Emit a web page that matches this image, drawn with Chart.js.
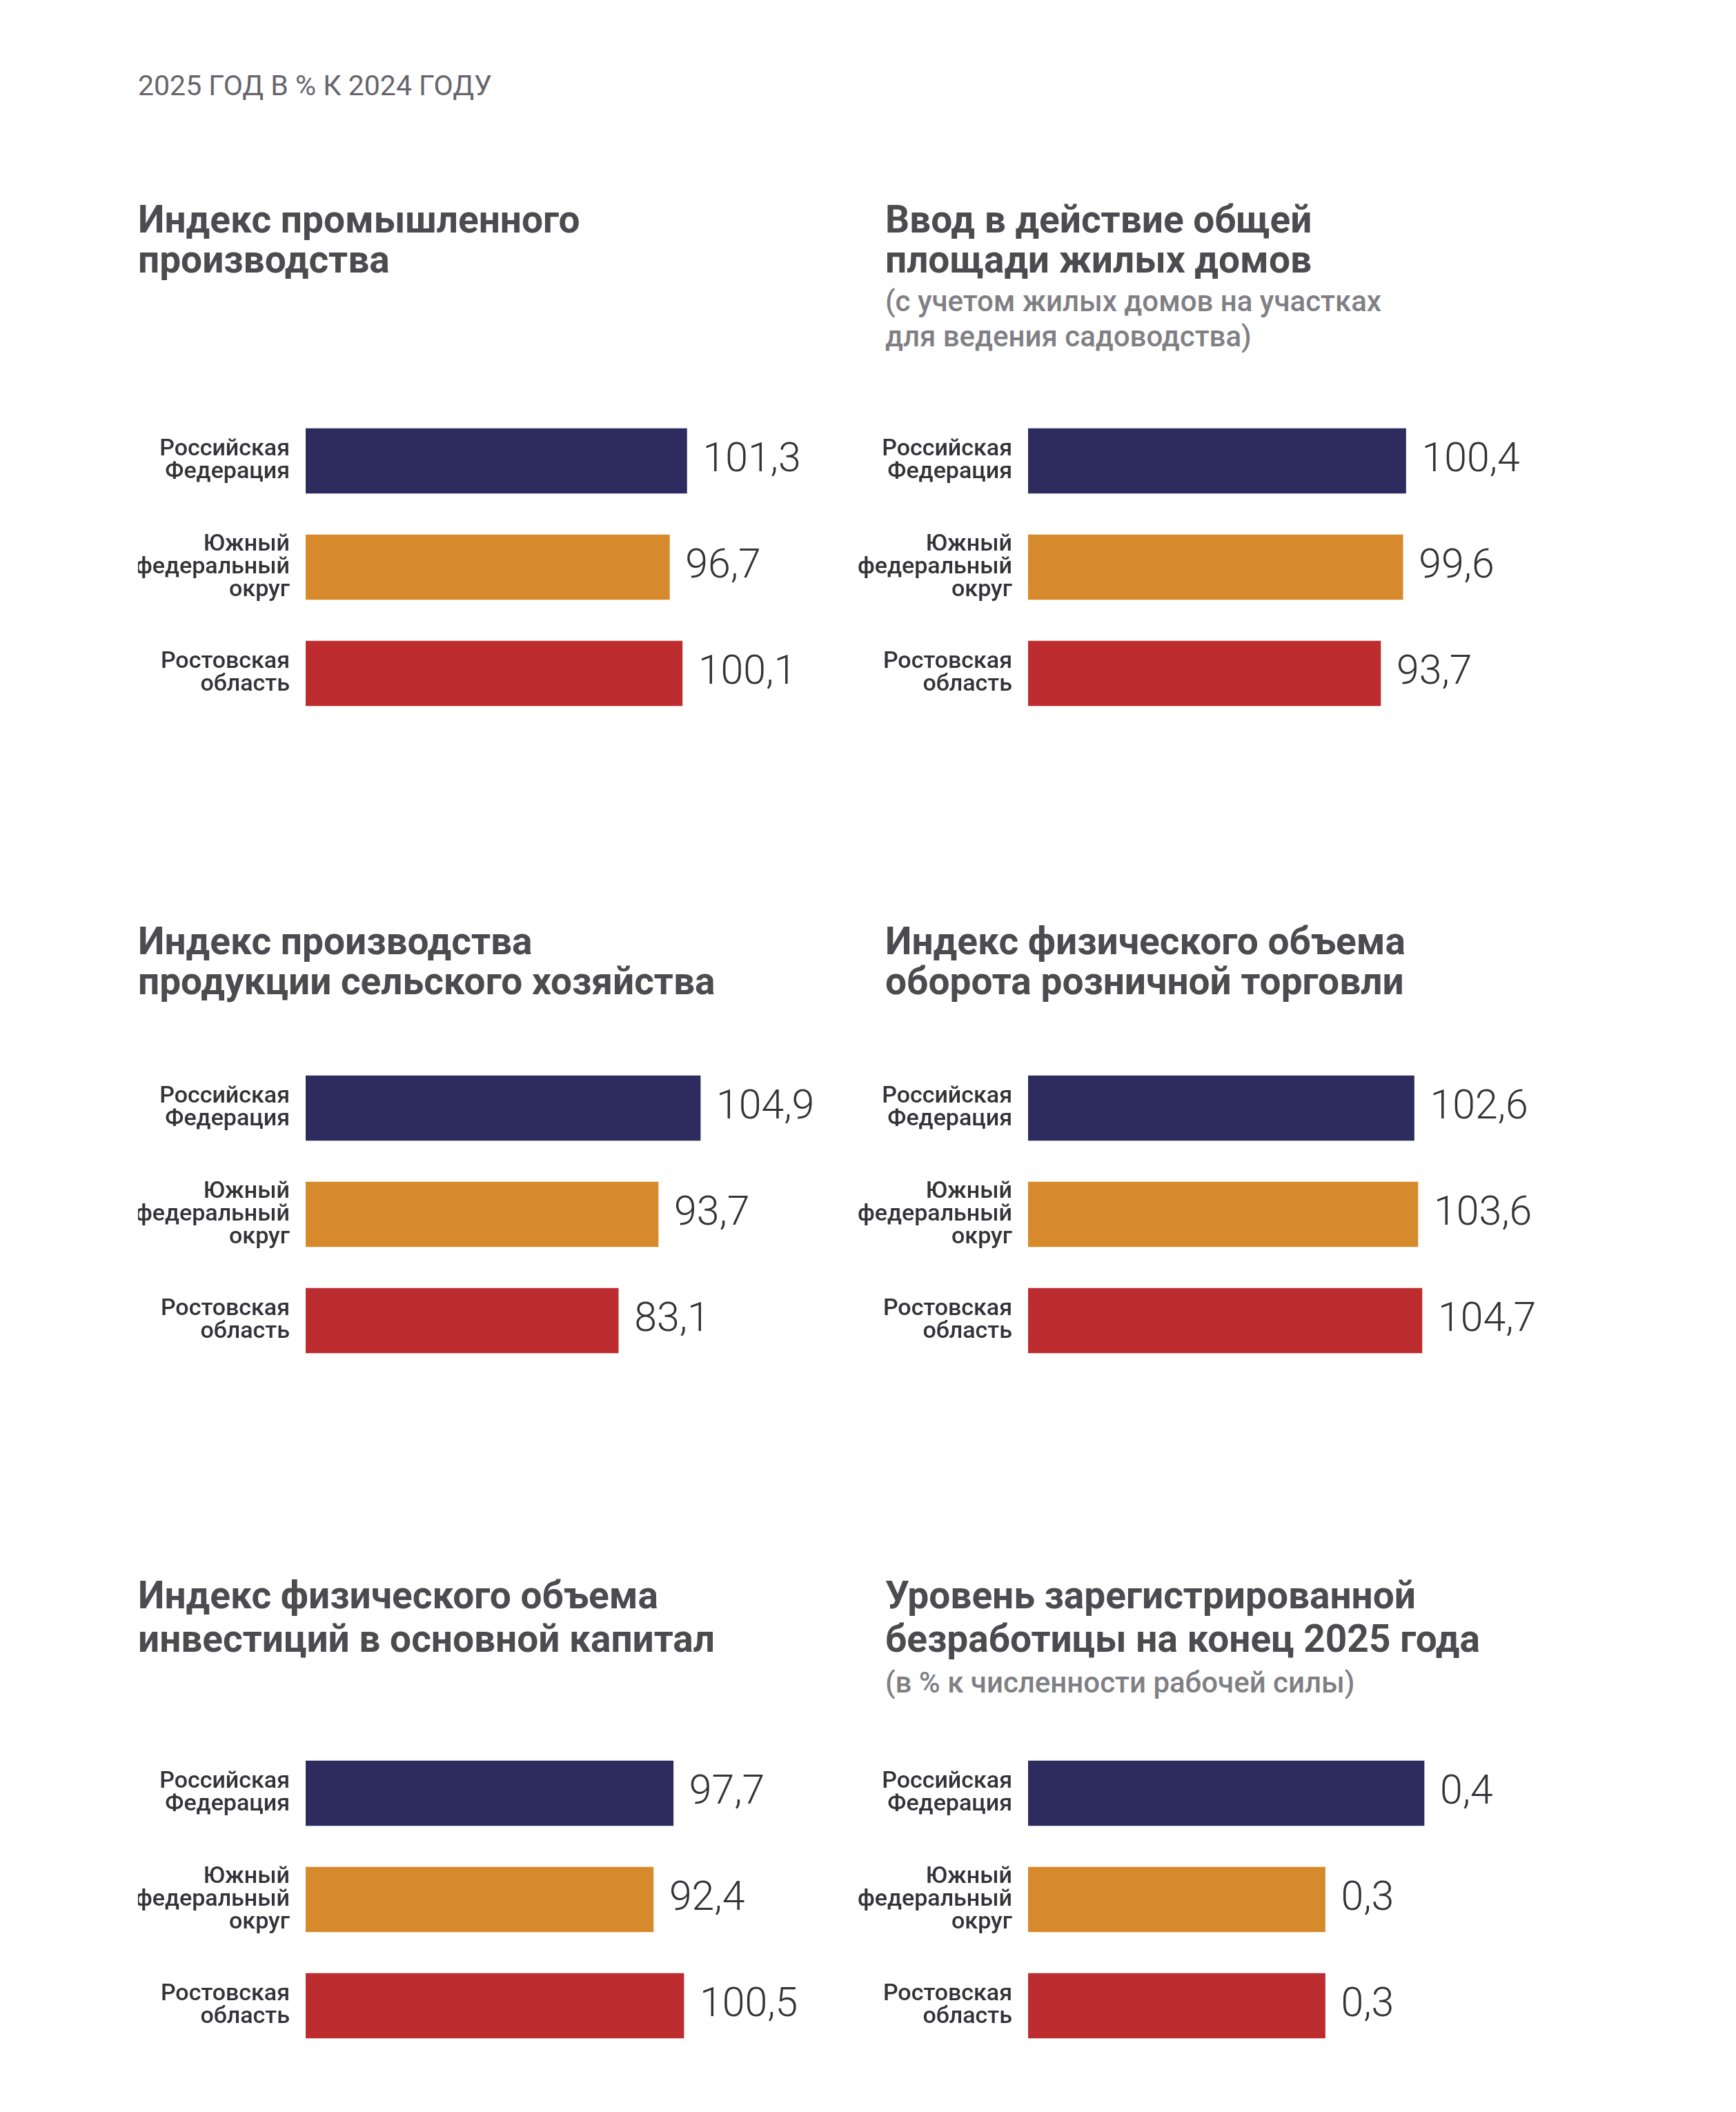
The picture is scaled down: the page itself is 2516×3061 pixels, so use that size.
<!DOCTYPE html>
<html lang="ru">
<head>
<meta charset="utf-8">
<title>2025 год в % к 2024 году</title>
<script src="https://cdn.jsdelivr.net/npm/chart.js@4.4.1/dist/chart.umd.min.js"></script>
<style>
    html, body { margin: 0; padding: 0; background: #fff; }
    body { position: relative; width: 2516px; height: 3061px; overflow: hidden; font-family: Roboto, "Noto Sans", sans-serif; }
    .head { position: absolute; left: 200px; top: 94px; font-size: 41px; line-height: 60px; color: #66666c; white-space: nowrap; }
    .ttl { position: absolute; font-size: 55px; line-height: 58px; font-weight: 700; color: #4b4b50; white-space: nowrap; }
    .sub { display: block; margin-top: 6px; font-size: 42px; line-height: 51px; font-weight: 500; color: #808084; }
    canvas { position: absolute; }
</style>
</head>
<body>
<div class="head">2025 ГОД В % К 2024 ГОДУ</div>

<div class="ttl" style="left:200px;top:289px">Индекс промышленного<br>производства</div>
<div class="ttl" style="left:1283px;top:289px">Ввод в действие общей<br>площади жилых домов
    <span class="sub">(с учетом жилых домов на участках<br>для ведения садоводства)</span></div>

<div class="ttl" style="left:200px;top:1335px">Индекс производства<br>продукции сельского хозяйства</div>
<div class="ttl" style="left:1283px;top:1335px">Индекс физического объема<br>оборота розничной торговли</div>

<div class="ttl" style="left:200px;top:2281px;line-height:63px">Индекс физического объема<br>инвестиций в основной капитал</div>
<div class="ttl" style="left:1283px;top:2281px;line-height:63px">Уровень зарегистрированной<br>безработицы на конец 2025 года
    <span class="sub">(в % к численности рабочей силы)</span></div>

<canvas id="industryChart"></canvas>
<canvas id="housingChart"></canvas>
<canvas id="agroChart"></canvas>
<canvas id="retailChart"></canvas>
<canvas id="investChart"></canvas>
<canvas id="joblessChart"></canvas>

<script>
// regions (y axis labels)
const regions = [
    ['Российская', 'Федерация'],
    ['Южный', 'федеральный', 'округ'],
    ['Ростовская', 'область']
];
const barColors = ['#2e2c5e', '#d68a2b', '#bd2c2e'];

// 2025 in % to 2024
const industrial = [101.3, 96.7, 100.1];
const housing = [100.4, 99.6, 93.7];
const agriculture = [104.9, 93.7, 83.1];
const retail = [102.6, 103.6, 104.7];
const investment = [97.7, 92.4, 100.5];
// % of labour force
const unemployment = [0.4, 0.3, 0.3];

const fmt = v => v.toFixed(1).replace('.', ',');

// value text right of each bar
const valueLabels = {
    id: 'valueLabels',
    afterDatasetsDraw(chart) {
        const ctx = chart.ctx;
        const ds = chart.data.datasets[0];
        ctx.save();
        ctx.font = '300 59px Roboto';
        ctx.fillStyle = '#333338';
        ctx.textAlign = 'left';
        ctx.textBaseline = 'middle';
        chart.getDatasetMeta(0).data.forEach((bar, i) => {
            ctx.fillText(fmt(ds.data[i]), bar.x + 23, bar.y);
        });
        ctx.restore();
    }
};

function makeChart(id, values, xMax, left, top, axisWidth) {
    const canvas = document.getElementById(id);
    const w = axisWidth + 818, h = 462;
    canvas.width = w;
    canvas.height = h;
    canvas.style.left = left + 'px';
    canvas.style.top = top + 'px';
    canvas.style.width = w + 'px';
    canvas.style.height = h + 'px';

    return new Chart(canvas, {
        type: 'bar',
        data: {
            labels: regions,
            datasets: [{
                data: values,
                backgroundColor: barColors,
                borderWidth: 0,
                barThickness: 94
            }]
        },
        options: {
            indexAxis: 'y',
            responsive: false,
            maintainAspectRatio: false,
            animation: false,
            devicePixelRatio: 1,
            layout: { padding: 0, autoPadding: false },
            plugins: { legend: { display: false }, tooltip: { enabled: false } },
            scales: {
                x: { display: false, min: 0, max: xMax },
                y: {
                    afterFit(scale) {
                        scale.width = axisWidth;
                        scale.paddingTop = 0;
                        scale.paddingBottom = 0;
                    },
                    grid: { display: false, drawTicks: false },
                    border: { display: false },
                    ticks: {
                        padding: 23,
                        color: '#333338',
                        font: { family: 'Roboto', size: 34, weight: '500', lineHeight: '33px' }
                    }
                }
            }
        },
        plugins: [valueLabels]
    });
}

makeChart('industryChart', industrial, 150, 200, 591, 243);
makeChart('housingChart', housing, 150, 1240, 591, 250);
makeChart('agroChart', agriculture, 150, 200, 1529, 243);
makeChart('retailChart', retail, 150, 1240, 1529, 250);
makeChart('investChart', investment, 150, 200, 2522, 243);
makeChart('joblessChart', unemployment, 0.57, 1240, 2522, 250);
</script>
</body>
</html>
